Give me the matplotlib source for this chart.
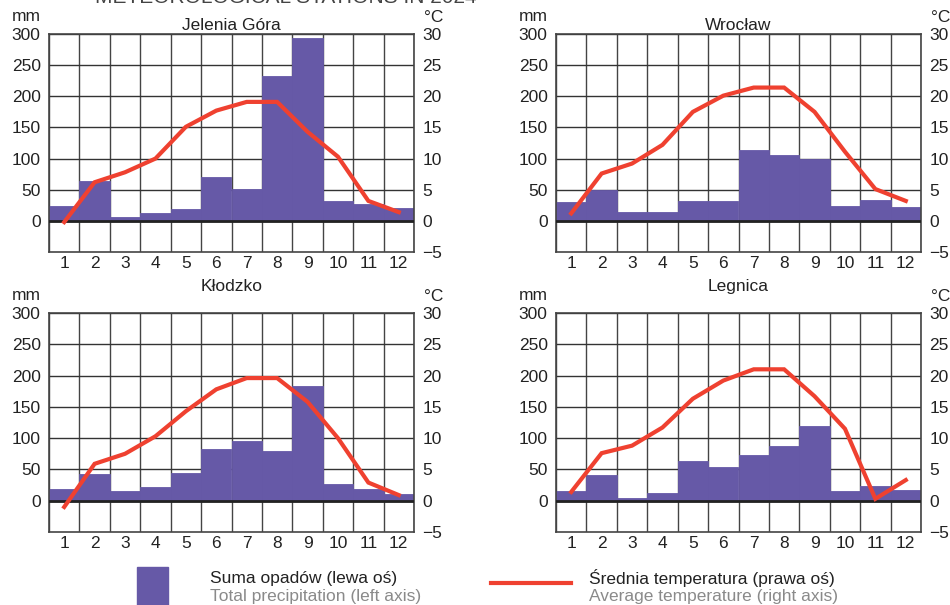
import matplotlib.pyplot as plt
from matplotlib.patches import Rectangle
from matplotlib.lines import Line2D

plt.rcParams['font.family'] = ['Liberation Sans', 'DejaVu Sans']

months = [1, 2, 3, 4, 5, 6, 7, 8, 9, 10, 11, 12]
stations = ['Jelenia Góra', 'Wrocław', 'Kłodzko', 'Legnica']

# precipitation, mm
prec_jelenia = [24, 64, 6, 12, 19, 70, 51, 232, 293, 32, 27, 20]
prec_wroclaw = [30, 50, 14, 14, 32, 32, 114, 106, 100, 24, 33, 22]
prec_klodzko = [18, 42, 15, 22, 45, 83, 95, 80, 183, 26, 18, 11]
prec_legnica = [15, 41, 5, 12, 64, 54, 73, 88, 120, 16, 24, 17]

# average temperature, °C
temp_jelenia = [-0.2, 6.2, 7.8, 10.0, 15.1, 17.7, 19.1, 19.1, 14.3, 10.3, 3.2, 1.4]
temp_wroclaw = [1.2, 7.6, 9.2, 12.2, 17.5, 20.1, 21.4, 21.4, 17.5, 11.1, 5.1, 3.2]
temp_klodzko = [-1.0, 5.9, 7.5, 10.3, 14.3, 17.8, 19.6, 19.6, 15.8, 10.0, 2.9, 0.9]
temp_legnica = [1.4, 7.6, 8.8, 11.7, 16.3, 19.2, 21.0, 21.0, 16.7, 11.5, 0.3, 3.3]

prec = [prec_jelenia, prec_wroclaw, prec_klodzko, prec_legnica]
temp = [temp_jelenia, temp_wroclaw, temp_klodzko, temp_legnica]

bar_col = '#6659a7'
line_col = '#ef4130'
fs = 12.5

W, H = 950, 605
fig = plt.figure(figsize=(9.5, 6.05), dpi=100)

# axes boxes in pixels: left, top, right, bottom
boxes = [(49, 34, 414, 252), (556, 34, 921, 252),
         (49, 313, 414, 532), (556, 313, 921, 532)]
title_pad = [3, 3, 16, 16]

for i in range(4):
    l, t, r, b = boxes[i]
    ax = fig.add_axes([l / W, 1 - b / H, (r - l) / W, (b - t) / H])
    ax.set_xlim(0.5, 12.5)
    ax.set_ylim(-50, 300)
    ax.set_axisbelow(True)
    ax.bar(months, prec[i], width=1.0, color=bar_col, edgecolor=bar_col, lw=0.6, zorder=2)
    ax.axhline(0, color='#222222', lw=2, zorder=3)

    ax.set_yticks(range(0, 301, 50))
    ax.set_xticks(months)
    ax.set_xticks([m + 0.5 for m in range(0, 13)], minor=True)
    ax.grid(True, which='major', axis='y', color='#333333', lw=1)
    ax.grid(True, which='minor', axis='x', color='#444444', lw=1)
    ax.tick_params(axis='both', which='both', length=0, labelsize=fs, colors='#222222')
    ax.tick_params(axis='y', pad=6)
    ax.tick_params(axis='x', pad=3)
    for s in ax.spines.values():
        s.set_color('#444444')
        s.set_linewidth(1.2)
    ax.set_title(stations[i], fontsize=fs, pad=title_pad[i], color='#222222')
    ax.text(-0.062, 1.045, 'mm', transform=ax.transAxes, ha='center', va='bottom',
            fontsize=fs, color='#222222')

    ax2 = ax.twinx()
    ax2.set_ylim(-5, 30)
    ax2.set_yticks(range(-5, 31, 5))
    ax2.tick_params(axis='y', length=0, labelsize=fs, pad=6, colors='#222222')
    for s in ax2.spines.values():
        s.set_visible(False)
    ax2.plot(months, temp[i], color=line_col, lw=3, solid_joinstyle='miter')
    ax2.text(1.055, 1.04, '°C', transform=ax2.transAxes, ha='center', va='bottom',
             fontsize=fs, color='#222222')

# cut-off heading at the very top
fig.text(95 / W, 1 - 3 / H, 'METEOROLOGICAL STATIONS IN 2024', fontsize=15,
         color='#444444', va='baseline', ha='left')

# legend
fig.add_artist(Rectangle((137 / W, 0), 31 / W, 38 / H, transform=fig.transFigure,
                         color=bar_col))
fig.add_artist(Line2D([491 / W, 571 / W], [22 / H, 22 / H], transform=fig.transFigure,
                      color=line_col, lw=3))
fig.text(210 / W, 27 / H, 'Suma opadów (lewa oś)', fontsize=fs, color='#222222', va='center')
fig.text(210 / W, 9 / H, 'Total precipitation (left axis)', fontsize=fs, color='#8a8a8a',
         va='center')
fig.text(589 / W, 27 / H, 'Średnia temperatura (prawa oś)', fontsize=fs, color='#222222',
         va='center')
fig.text(589 / W, 9 / H, 'Average temperature (right axis)', fontsize=fs, color='#8a8a8a',
         va='center')

fig.savefig('out.png', dpi=100)
